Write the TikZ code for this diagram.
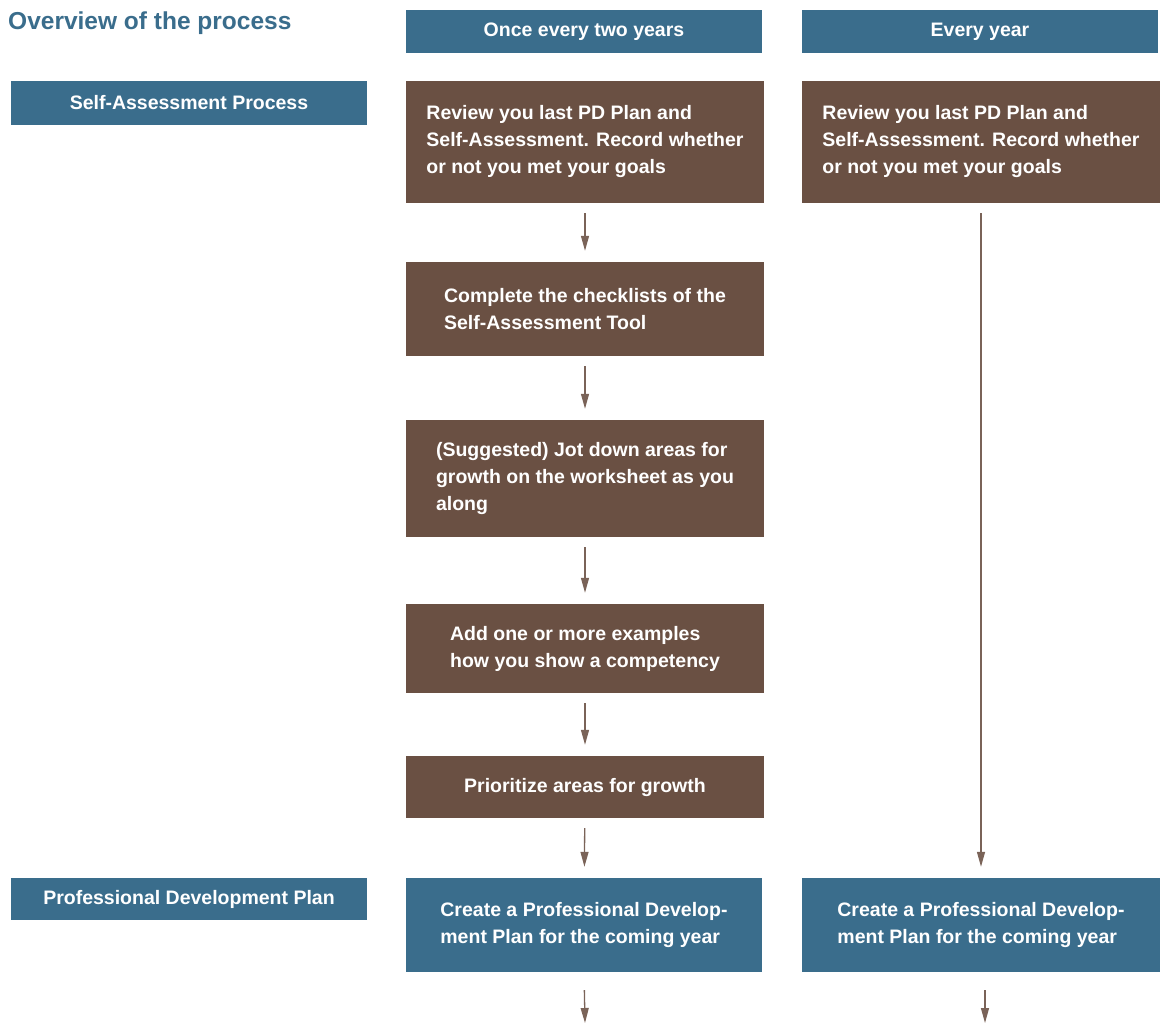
\documentclass[tikz,border=0pt]{standalone}
\usepackage{fontspec}
\setmainfont{Liberation Sans}
\usetikzlibrary{arrows.meta}
\definecolor{hdrblue}{HTML}{3A6D8C}
\definecolor{boxbrown}{HTML}{6A5043}
\definecolor{arrbrown}{HTML}{7A6358}
\tikzset{
  blk/.style={inner sep=0pt, text=white, font=\bfseries\fontsize{19.5}{27}\selectfont, align=left},
  bluebox/.style={blk, fill=hdrblue},
  brownbox/.style={blk, fill=boxbrown},
  flow/.style={draw=arrbrown, line width=1.3pt, -{Triangle[width=8pt,length=15pt]}, shorten <=10pt, shorten >=11pt},
}
\begin{document}
\begin{tikzpicture}[x=1pt,y=1pt]
\useasboundingbox (0,0) rectangle (1160,-1024);
% title
\node[anchor=west, inner sep=0pt, text=hdrblue, font=\bfseries\fontsize{24.5}{28}\selectfont] (title) at (8,-23) {Overview of the process};
% headers
\node[bluebox, minimum width=356pt, minimum height=43pt] (h1) at (584,-31.5) {Once every two years};
\node[bluebox, minimum width=356pt, minimum height=43pt] (h2) at (980,-31.5) {Every year};
% left labels
\node[bluebox, minimum width=356pt, minimum height=44pt] (l1) at (189,-103) {Self-Assessment Process};
\node[bluebox, minimum width=356pt, minimum height=42pt] (l2) at (189,-899) {Professional Development Plan};
% column 1
\node[brownbox, minimum width=358pt, minimum height=122pt] (b1) at (585,-142) {Review you last PD Plan and\\Self-Assessment. Record whether\\or not you met your goals};
\node[brownbox, minimum width=358pt, minimum height=94pt] (b2) at (585,-309) {Complete the checklists of the\\Self-Assessment Tool};
\node[brownbox, minimum width=358pt, minimum height=117pt] (b3) at (585,-478.5) {(Suggested) Jot down areas for\\growth on the worksheet as you\\along};
\node[brownbox, minimum width=358pt, minimum height=89pt] (b4) at (585,-648.5) {Add one or more examples\\how you show a competency};
\node[brownbox, minimum width=358pt, minimum height=62pt] (b5) at (585,-787) {Prioritize areas for growth};
\node[bluebox, minimum width=356pt, minimum height=94pt] (b6) at (584,-925) {Create a Professional Develop-\\ment Plan for the coming year};
% column 2
\node[brownbox, minimum width=358pt, minimum height=122pt] (r1) at (981,-142) {Review you last PD Plan and\\Self-Assessment. Record whether\\or not you met your goals};
\node[bluebox, minimum width=358pt, minimum height=94pt] (r6) at (981,-925) {Create a Professional Develop-\\ment Plan for the coming year};
% free ends
\coordinate (e1) at (585,-1023);
\coordinate (e2) at (985,-1023);
% arrows
\draw[flow] (b1) -- (b2);
\draw[flow] (b2) -- (b3);
\draw[flow] (b3) -- (b4);
\draw[flow] (b4) -- (b5);
\draw[flow] (b5) -- (b6);
\draw[flow] (r1.south) -- (r6.north);
\draw[flow, shorten <=18pt, shorten >=0pt] (b6.south) -- (e1);
\draw[flow, shorten <=18pt, shorten >=0pt] (r6.south -| e2) -- (e2);
\end{tikzpicture}
\end{document}
